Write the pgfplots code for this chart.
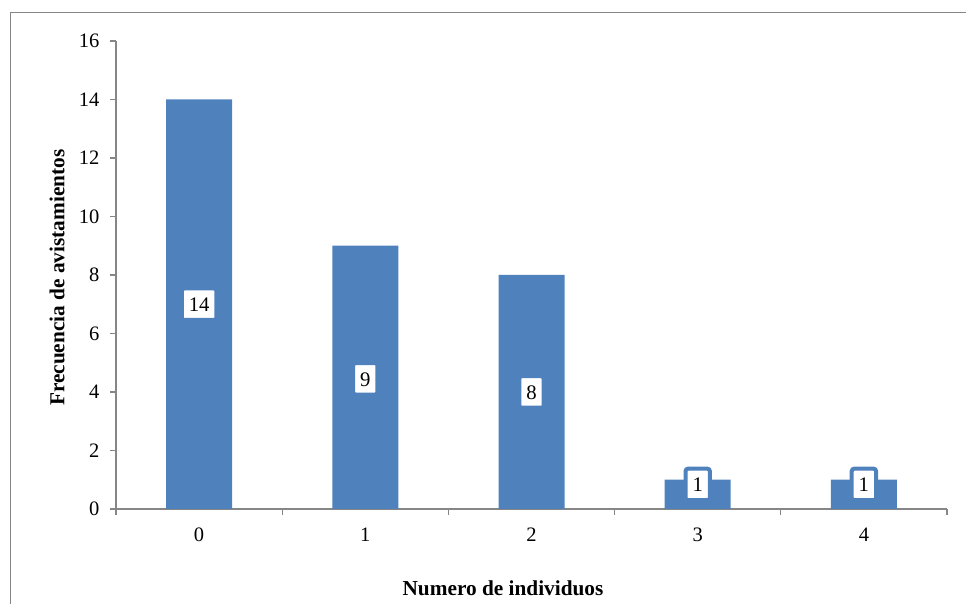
\documentclass[border=0pt]{standalone}
\usepackage{fontspec}
\setmainfont{Liberation Serif}
\usepackage{pgfplots}
\pgfplotsset{compat=1.18}
\definecolor{barblue}{HTML}{4F81BD}
\definecolor{axgray}{HTML}{868686}
\begin{document}
\begin{tikzpicture}
\useasboundingbox (0pt,0pt) rectangle (966pt,604pt);
\draw[axgray, line width=1.3pt] (10.5pt,0pt) -- (10.5pt,591.5pt) -- (966pt,591.5pt);
\begin{axis}[
  at={(116pt,95pt)}, anchor=south west,
  scale only axis, width=831pt, height=468pt,
  xmin=-0.5, xmax=4.5, ymin=0, ymax=16,
  xtick={0,1,2,3,4}, ytick={0,2,...,16},
  minor xtick={-0.5,0.5,1.5,2.5,3.5,4.5},
  axis x line*=bottom, axis y line*=left,
  axis line style={draw=axgray, line width=1.2pt, -},
  tick style={draw=axgray, line width=1.2pt},
  major x tick style={draw=none},
  tick align=outside,
  major tick length=6pt, minor tick length=6pt,
  tick label style={font=\fontsize{20.5}{24}\selectfont},
  /pgf/number format/assume math mode=true,
  yticklabel style={xshift=-7pt},
  xticklabel style={yshift=-9pt},
  xlabel={Numero de individuos},
  ylabel={Frecuencia de avistamientos},
  label style={font=\fontsize{21.3}{25}\selectfont\bfseries},
  xlabel style={at={(axis description cs:0.4657,-0.1688)}, anchor=center},
  ylabel style={at={(axis description cs:-0.071,0.494)}, anchor=center},
  clip=false,
]
\addplot[ybar, bar width=66pt, bar shift=0pt, fill=barblue, draw=none]
  coordinates {(0,14) (1,9) (2,8) (3,1) (4,1)};
\addplot[draw=none, mark=none, forget plot, nodes near coords,
  point meta=explicit symbolic,
  nodes near coords style={anchor=center, fill=white, draw=barblue,
    line width=4pt, rounded corners=2.5pt, inner xsep=7pt, inner ysep=8.5pt,
    text height=14.5pt, text depth=0pt, font=\fontsize{20.7}{24}\selectfont}]
  coordinates {(0,7)[14] (1,4.45)[9] (2,4)[8] (3,0.84)[1] (4,0.84)[1]};
\end{axis}
\end{tikzpicture}
\end{document}
